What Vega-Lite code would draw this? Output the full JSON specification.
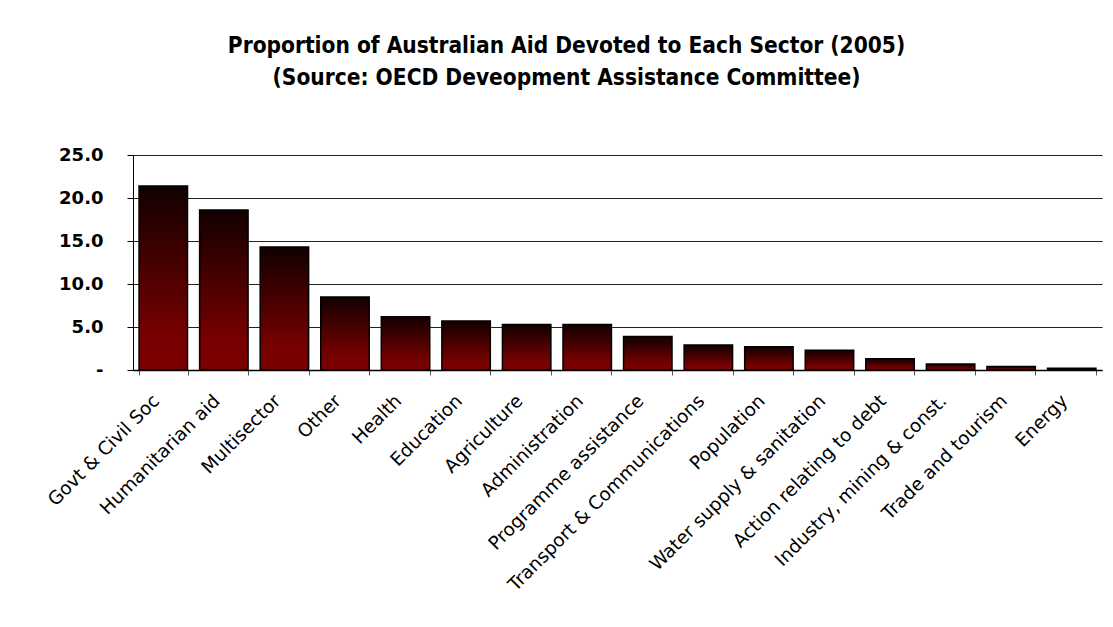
{
  "$schema": "https://vega.github.io/schema/vega-lite/v6.json",
  "autosize": {"type": "none"},
  "width": 969,
  "height": 215,
  "padding": {"left": 133, "top": 155, "right": 11, "bottom": 257},
  "background": "white",
  "title": {
    "text": ["Proportion of Australian Aid Devoted to Each Sector (2005)", "(Source: OECD Deveopment Assistance Committee)"],
    "font": "DejaVu Sans Condensed",
    "fontSize": 22.5,
    "fontWeight": "bold",
    "color": "#000000",
    "anchor": "middle",
    "frame": "group",
    "dx": -51,
    "lineHeight": 32,
    "offset": 57
  },
  "data": {
    "values": [
      {"sector": "Govt & Civil Soc", "value": 21.4},
      {"sector": "Humanitarian aid", "value": 18.6},
      {"sector": "Multisector", "value": 14.3},
      {"sector": "Other", "value": 8.5},
      {"sector": "Health", "value": 6.2},
      {"sector": "Education", "value": 5.7},
      {"sector": "Agriculture", "value": 5.3},
      {"sector": "Administration", "value": 5.3},
      {"sector": "Programme assistance", "value": 3.9},
      {"sector": "Transport & Communications", "value": 2.9},
      {"sector": "Population", "value": 2.7},
      {"sector": "Water supply & sanitation", "value": 2.3},
      {"sector": "Action relating to debt", "value": 1.3},
      {"sector": "Industry, mining & const.", "value": 0.7},
      {"sector": "Trade and tourism", "value": 0.4},
      {"sector": "Energy", "value": 0.2}
    ]
  },
  "mark": {
    "type": "bar",
    "stroke": "#000000",
    "strokeWidth": 1.5,
    "color": {
      "gradient": "linear",
      "x1": 0, "y1": 0, "x2": 0, "y2": 1,
      "stops": [
        {"offset": 0, "color": "#120000"},
        {"offset": 0.8, "color": "#760000"},
        {"offset": 1, "color": "#7c0000"}
      ]
    }
  },
  "encoding": {
    "x": {
      "field": "sector",
      "type": "nominal",
      "sort": null,
      "title": null,
      "scale": {"paddingInner": 0.2, "paddingOuter": 0.1},
      "axis": {
        "labelAngle": -45,
        "labelFont": "DejaVu Sans",
        "labelFontSize": 18.5,
        "labelColor": "#000000",
        "labelPadding": 16,
        "labelOffset": -14,
        "labelLimit": 0,
        "labelOverlap": false,
        "tickBand": "extent",
        "tickSize": 5,
        "tickColor": "#555555",
        "domainColor": "#000000",
        "domainWidth": 1.5,
        "grid": false
      }
    },
    "y": {
      "field": "value",
      "type": "quantitative",
      "title": null,
      "scale": {"domain": [0, 25], "nice": false},
      "axis": {
        "values": [0, 5, 10, 15, 20, 25],
        "labelExpr": "datum.value == 0 ? '-' : format(datum.value, '.1f')",
        "labelFont": "DejaVu Sans",
        "labelFontSize": 18,
        "labelFontWeight": "bold",
        "labelColor": "#000000",
        "labelPadding": 24,
        "tickSize": 6,
        "tickColor": "#000000",
        "domainColor": "#000000",
        "grid": true,
        "gridColor": "#222222",
        "gridWidth": 1
      }
    }
  },
  "config": {
    "view": {"stroke": null}
  }
}
